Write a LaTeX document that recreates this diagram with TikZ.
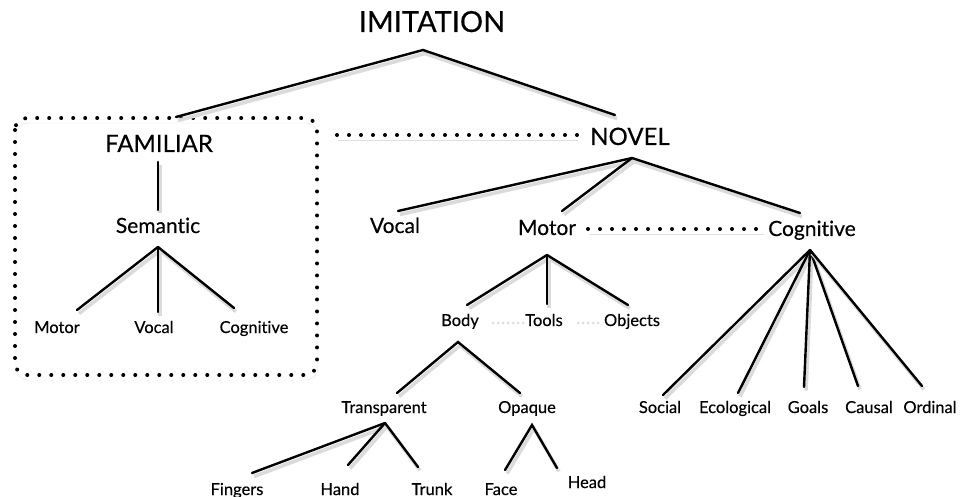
\documentclass[tikz,border=0pt]{standalone}
\usepackage{fontspec}
\setmainfont{Lato}[Ligatures=NoCommon, FakeBold=0.35]
\begin{document}
\begin{tikzpicture}[x=1pt,y=-1pt,
  lbl/.style={inner sep=0pt, anchor=base},
  big/.style={lbl,font=\fontsize{29}{32}\selectfont},
  hd/.style={lbl,font=\fontsize{24}{28}\selectfont},
  mid/.style={lbl,font=\fontsize{21}{24}\selectfont},
  small/.style={lbl,font=\fontsize{16.5}{19}\selectfont},
  link/.style={line width=2.4pt, line cap=round,
    preaction={draw=black!14, line width=3.6pt, transform canvas={shift={(2pt,-3.5pt)}}}},
  dots/.style={line width=4pt, line cap=round, dash pattern=on 0pt off 12pt,
    preaction={draw=black!12, transform canvas={shift={(1pt,-5pt)}}}},
  faint/.style={draw=black!13, line width=3pt, line cap=round, dash pattern=on 0pt off 5pt},
]
\useasboundingbox (0,0) rectangle (966,497);
\fill[white] (0,0) rectangle (966,497);

% labels
\node[big]   (imit)    at (432,32)  {IMITATION};
\node[hd]    (fam)     at (159,152) {FAMILIAR};
\node[hd]    (novel)   at (630,145) {NOVEL};
\node[mid]   (sem)     at (158,233) {Semantic};
\node[small] (fmotor)  at (57,333)  {Motor};
\node[small] (fvocal)  at (154,333) {Vocal};
\node[small] (fcog)    at (254,333) {Cognitive};
\node[mid]   (nvocal)  at (395,233) {Vocal};
\node[mid]   (nmotor)  at (547,235) {Motor};
\node[mid]   (ncog)    at (812,236) {Cognitive};
\node[small] (body)    at (460,326) {Body};
\node[small] (tools)   at (544,326) {Tools};
\node[small] (objects) at (632,326) {Objects};
\node[small] (transp)  at (384,413) {Transparent};
\node[small] (opaque)  at (527,413) {Opaque};
\node[small] (fingers) at (237,495) {Fingers};
\node[small] (hand)    at (340,495) {Hand};
\node[small] (trunk)   at (432,495) {Trunk};
\node[small] (face)    at (501,495) {Face};
\node[small] (head)    at (587,488) {Head};
\node[small] (social)  at (660,413) {Social};
\node[small] (ecol)    at (735,413) {Ecological};
\node[small] (goals)   at (808,413) {Goals};
\node[small] (causal)  at (869,413) {Causal};
\node[small] (ordinal) at (930,413) {Ordinal};

% connector end points
\coordinate (imA) at (423,50);
\coordinate (famT) at (176,117);
\coordinate (novT) at (615,115);
\coordinate (famB) at (158,162);
\coordinate (semT) at (158,210);
\coordinate (semA) at (158,247);
\coordinate (fmotorT) at (77,310);
\coordinate (fvocalT) at (158,312);
\coordinate (fcogT) at (234,308);
\coordinate (novA) at (632,158);
\coordinate (nvocalT) at (398,211);
\coordinate (nmotorT) at (562,211);
\coordinate (ncogT) at (800,213);
\coordinate (motA) at (547,255);
\coordinate (bodyT) at (467,305);
\coordinate (toolsT) at (547,304);
\coordinate (objectsT) at (628,305);
\coordinate (cogA) at (810,250);
\coordinate (socialT) at (663,395);
\coordinate (ecolT) at (738,393);
\coordinate (goalsT) at (804,387);
\coordinate (causalT) at (858,386);
\coordinate (ordinalT) at (922,386);
\coordinate (bodyA) at (458,342);
\coordinate (transpT) at (397,393);
\coordinate (opaqueT) at (520,393);
\coordinate (trA) at (385,423);
\coordinate (fingersT) at (252,473);
\coordinate (handT) at (348,465);
\coordinate (trunkT) at (418,467);
\coordinate (opA) at (532,425);
\coordinate (faceT) at (505,470);
\coordinate (headT) at (557,468);

% dotted links
\draw[dots, rounded corners=12pt] (15,118) rectangle (317,375);
\coordinate (d1a) at (337,135);
\coordinate (d1b) at (577,135);
\draw[dots] (d1a) -- (d1b);
\coordinate (d2a) at (588,229);
\coordinate (d2b) at (763,229);
\draw[dots] (d2a) -- (d2b);
\coordinate (f1a) at (493,323);
\coordinate (f1b) at (523,323);
\coordinate (f2a) at (578,323);
\coordinate (f2b) at (602,323);
\draw[faint] (f1a) -- (f1b);
\draw[faint] (f2a) -- (f2b);

% tree links
\draw[link] (famT) -- (imA) -- (novT);
\draw[link] (famB) -- (semT);
\draw[link] (semA) -- (fmotorT);
\draw[link] (semA) -- (fvocalT);
\draw[link] (semA) -- (fcogT);
\draw[link] (novA) -- (nvocalT);
\draw[link] (novA) -- (nmotorT);
\draw[link] (novA) -- (ncogT);
\draw[link] (motA) -- (bodyT);
\draw[link] (motA) -- (toolsT);
\draw[link] (motA) -- (objectsT);
\draw[link] (cogA) -- (socialT);
\draw[link] (cogA) -- (ecolT);
\draw[link] (cogA) -- (goalsT);
\draw[link] (cogA) -- (causalT);
\draw[link] (cogA) -- (ordinalT);
\draw[link] (transpT) -- (bodyA) -- (opaqueT);
\draw[link] (trA) -- (fingersT);
\draw[link] (trA) -- (handT);
\draw[link] (trA) -- (trunkT);
\draw[link] (faceT) -- (opA) -- (headT);
\end{tikzpicture}
\end{document}
